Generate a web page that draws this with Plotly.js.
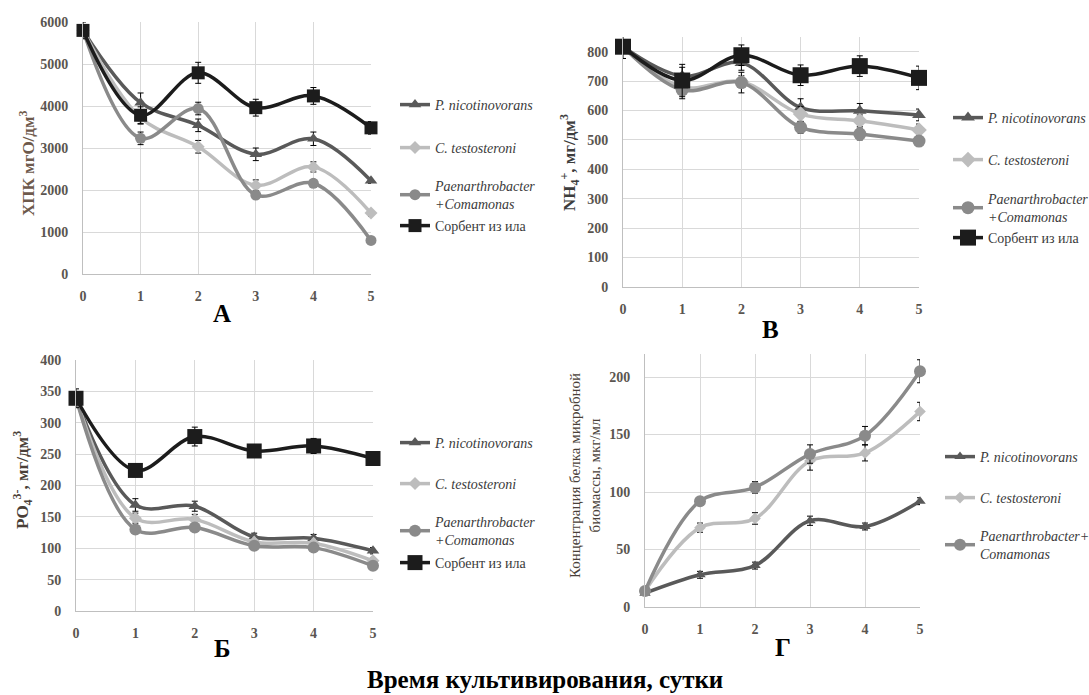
<!DOCTYPE html>
<html>
<head>
<meta charset="utf-8">
<script src="https://cdn.plot.ly/plotly-3.0.1.min.js"></script>
<style>html,body{margin:0;padding:0;background:#fff;}#chart{width:1089px;height:695px;}</style>
</head>
<body>
<div id="chart"></div>
<script>
// ---- data ----
const days = [0, 1, 2, 3, 4, 5];
const seriesNames = ["<i>P. nicotinovorans</i>", "<i>C. testosteroni</i>", "<i>Paenarthrobacter</i><br><i>+Comamonas</i>", "Сорбент из ила"];
const seriesNamesG = ["<i>P. nicotinovorans</i>", "<i>C. testosteroni</i>", "<i>Paenarthrobacter+</i><br><i>Comamonas</i>"];
const panelLetters = ["A", "B", "Б", "Г"];
const xTitle = "Время культивирования, сутки";

// A: ХПК
const codPN = [5800, 4080, 3540, 2850, 3220, 2220];
const codCT = [5800, 3720, 3030, 2110, 2550, 1450];
const codPC = [5800, 3230, 3940, 1880, 2160, 800];
const codSB = [5800, 3780, 4790, 3960, 4240, 3480];
const codPNerr = [100, 230, 150, 150, 160, 60];
const codCTerr = [100, 150, 150, 130, 120, 80];
const codPCerr = [100, 150, 150, 80, 80, 50];
const codSBerr = [200, 200, 250, 200, 200, 150];

// B: NH4+
const nhPN = [817, 717, 762, 610, 599, 585];
const nhCT = [817, 680, 698, 588, 565, 534];
const nhPC = [817, 670, 695, 543, 520, 496];
const nhSB = [817, 702, 788, 720, 751, 711];
const nhPNerr = [20, 30, 25, 30, 25, 20];
const nhCTerr = [20, 25, 20, 25, 20, 20];
const nhPCerr = [20, 30, 35, 20, 20, 15];
const nhSBerr = [40, 55, 35, 35, 35, 40];

// Б: PO4 3-
const poPN = [339, 169, 167, 118, 116, 96];
const poCT = [339, 148, 146, 110, 108, 80];
const poPC = [339, 130, 133, 104, 101, 72];
const poSB = [339, 224, 278, 255, 263, 243];
const poPNerr = [10, 10, 8, 6, 6, 5];
const poCTerr = [8, 8, 8, 6, 6, 5];
const poPCerr = [8, 6, 6, 5, 5, 4];
const poSBerr = [15, 10, 15, 10, 12, 10];

// Г: protein
const prPN = [12, 28, 36, 75, 70, 92];
const prCT = [14, 69, 77, 127, 134, 170];
const prPC = [14, 92, 104, 133, 149, 205];
const prPNerr = [2, 3, 3, 4, 3, 3];
const prCTerr = [2, 4, 5, 8, 7, 8];
const prPCerr = [2, 3, 5, 8, 8, 10];

// ---- styling ----
const W = 1089, H = 695;
const px = v => v / W;
const py = v => 1 - v / H;
const colPN = '#595959', colCT = '#bdbdbd', colPC = '#8a8a8a', colSB = '#1c1c1c';
const serif = "'Liberation Serif', 'Times New Roman', serif";
const tickCol = '#5a5550';

const legendDefs = {};
let legendCount = 0;
function legendAt(x, y) {
  legendCount++;
  const key = legendCount === 1 ? 'legend' : 'legend' + legendCount;
  legendDefs[key] = {
    x: px(x - 5), y: py(y), xanchor: 'left', yanchor: 'middle',
    bgcolor: 'rgba(0,0,0,0)', borderwidth: 0,
    font: {family: serif, size: 14, color: '#3a3a3a'},
    itemwidth: 30, valign: 'middle'
  };
  return key;
}

function tr(x, y, err, name, color, symbol, msize, xa, ya, lx, ly) {
  return {
    x: x, y: y, name: name, type: 'scatter', mode: 'lines+markers',
    xaxis: xa, yaxis: ya, legend: legendAt(lx, ly),
    line: {color: color, width: 3.5, shape: 'spline', smoothing: 1},
    marker: {color: color, symbol: symbol, size: msize},
    error_y: {type: 'data', array: err, visible: true, color: '#000', thickness: 1, width: 3},
    cliponaxis: false
  };
}

const traces = [
  tr(days, codPN, codPNerr, seriesNames[0], colPN, 'triangle-up', 11, 'x', 'y', 400, 105),
  tr(days, codCT, codCTerr, seriesNames[1], colCT, 'diamond', 10, 'x', 'y', 400, 148),
  tr(days, codPC, codPCerr, seriesNames[2], colPC, 'circle', 11, 'x', 'y', 400, 195),
  tr(days, codSB, codSBerr, seriesNames[3], colSB, 'square', 13, 'x', 'y', 400, 226),

  tr(days, nhPN, nhPNerr, seriesNames[0], colPN, 'triangle-up', 12, 'x2', 'y2', 953, 118),
  tr(days, nhCT, nhCTerr, seriesNames[1], colCT, 'diamond', 12, 'x2', 'y2', 953, 160),
  tr(days, nhPC, nhPCerr, seriesNames[2], colPC, 'circle', 13, 'x2', 'y2', 953, 208),
  tr(days, nhSB, nhSBerr, seriesNames[3], colSB, 'square', 16, 'x2', 'y2', 953, 238),

  tr(days, poPN, poPNerr, seriesNames[0], colPN, 'triangle-up', 11, 'x3', 'y3', 400, 443),
  tr(days, poCT, poCTerr, seriesNames[1], colCT, 'diamond', 10, 'x3', 'y3', 400, 484),
  tr(days, poPC, poPCerr, seriesNames[2], colPC, 'circle', 12, 'x3', 'y3', 400, 531),
  tr(days, poSB, poSBerr, seriesNames[3], colSB, 'square', 15, 'x3', 'y3', 400, 563),

  tr(days, prPN, prPNerr, seriesNamesG[0], colPN, 'triangle-up', 10, 'x4', 'y4', 945, 457),
  tr(days, prCT, prCTerr, seriesNamesG[1], colCT, 'diamond', 9, 'x4', 'y4', 945, 498),
  tr(days, prPC, prPCerr, seriesNamesG[2], colPC, 'circle', 12, 'x4', 'y4', 945, 545)
];

function xaxis(x0, x1, yanchor) {
  return {
    domain: [px(x0), px(x1)], anchor: yanchor, range: [0, 5], dtick: 1,
    showgrid: true, gridcolor: '#d9d9d9', gridwidth: 1,
    showline: true, linecolor: '#bfbfbf', linewidth: 1,
    zeroline: false, ticks: '', ticklabelstandoff: 9,
    tickfont: {family: serif, size: 14, color: tickCol, weight: 'bold'},
    fixedrange: true
  };
}
function yaxis(ytop, ybot, xanchor, rng, dt) {
  return {
    domain: [py(ybot), py(ytop)], anchor: xanchor, range: rng, dtick: dt,
    showgrid: true, gridcolor: '#d9d9d9', gridwidth: 1,
    showline: true, linecolor: '#bfbfbf', linewidth: 1,
    zeroline: false, ticks: '', ticklabelstandoff: 11,
    tickfont: {family: serif, size: 14, color: tickCol, weight: 'bold'},
    fixedrange: true
  };
}

const ann = (text, x, y, size, opts) => Object.assign({
  text: text, x: px(x), y: py(y), xref: 'paper', yref: 'paper',
  showarrow: false, xanchor: 'center', yanchor: 'middle',
  font: {family: serif, size: size, color: '#000', weight: 'bold'}
}, opts || {});

const layout = Object.assign({
  width: W, height: H,
  margin: {l: 0, r: 0, t: 0, b: 0, autoexpand: false},
  paper_bgcolor: '#fff', plot_bgcolor: '#fff',
  font: {family: serif},
  showlegend: true,
  xaxis: xaxis(83, 371, 'y'),
  yaxis: yaxis(22, 274, 'x', [0, 6000], 1000),
  xaxis2: xaxis(623, 919, 'y2'),
  yaxis2: yaxis(37, 287, 'x2', [0, 850], 100),
  xaxis3: xaxis(76, 373, 'y3'),
  yaxis3: yaxis(360, 611, 'x3', [0, 400], 50),
  xaxis4: xaxis(645, 920, 'y4'),
  yaxis4: yaxis(354, 607, 'x4', [0, 220], 50),
  annotations: [
    ann(panelLetters[0], 222, 314, 25),
    ann(panelLetters[1], 770, 330, 25),
    ann(panelLetters[2], 222, 648, 25),
    ann(panelLetters[3], 783, 647, 25),
    ann(xTitle, 545, 679, 25),
    ann('ХПК мгО/дм<sup>3</sup>', 27, 163, 17, {textangle: -90, font: {family: serif, size: 17, color: '#6e5a4c', weight: 'bold'}}),
    ann('NH<sub>4</sub><sup>+</sup>, мг/дм<sup>3</sup>', 569, 163, 17, {textangle: -90, font: {family: serif, size: 17, color: '#3d3d3d', weight: 'bold'}}),
    ann('PO<sub>4</sub><sup>3-</sup>, мг/дм<sup>3</sup>', 22, 480, 17, {textangle: -90, font: {family: serif, size: 17, color: '#4a3f38', weight: 'bold'}}),
    ann('Концентрация белка микробной<br>биомассы, мкг/мл', 585, 476, 15, {textangle: -90, font: {family: serif, size: 15, color: '#4a3f38'}})
  ]
}, legendDefs);

Plotly.newPlot('chart', traces, layout, {displayModeBar: false});
</script>
</body>
</html>
